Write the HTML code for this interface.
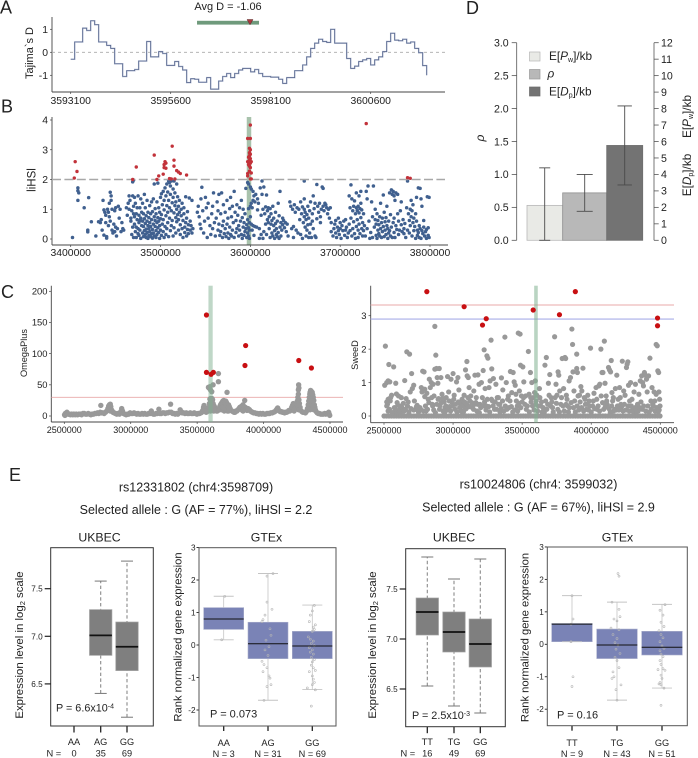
<!DOCTYPE html>
<html lang="en">
<head>
<meta charset="utf-8">
<title>Selection scan figure</title>
<style>
html,body{margin:0;padding:0;background:#fff;width:698px;height:758px;overflow:hidden}
svg{display:block;font-family:"Liberation Sans",sans-serif;fill:#222}
text{fill:#222}
</style>
</head>
<body>
<svg id="figure" xmlns="http://www.w3.org/2000/svg" width="698" height="758" viewBox="0 0 698 758">
  <text x="0" y="13.5" font-size="18">A</text>
  <text x="1" y="112.5" font-size="18">B</text>
  <text x="1" y="298" font-size="18">C</text>
  <text x="466" y="14" font-size="18">D</text>
  <text x="9" y="481" font-size="18">E</text>
  <text x="228" y="10" font-size="11" text-anchor="middle">Avg D = -1.06</text>
  <text transform="translate(33 53) rotate(-90)" font-size="11" text-anchor="middle">Tajima`s D</text>
  <text transform="translate(35.5 180) rotate(-90)" font-size="11.5" text-anchor="middle">liHSl</text>
  <text transform="translate(27 353) rotate(-90)" font-size="9.2" text-anchor="middle">OmegaPlus</text>
  <text transform="translate(358 355) rotate(-90)" font-size="9.2" text-anchor="middle">SweeD</text>
  <text transform="translate(484 138) rotate(-90)" font-size="12" font-style="italic" text-anchor="middle">ρ</text>
  <text transform="translate(691 116.5) rotate(-90)" font-size="11.8" text-anchor="middle">E[<tspan font-style="italic">P</tspan><tspan font-size="7" dy="2">w</tspan><tspan dy="-2">]/kb</tspan></text>
  <text transform="translate(691 175) rotate(-90)" font-size="11.8" text-anchor="middle">E[<tspan font-style="italic">D</tspan><tspan font-size="7" dy="2">p</tspan><tspan dy="-2">]/kb</tspan></text>
  <text x="196" y="491.5" font-size="12.5" text-anchor="middle">rs12331802 (chr4:3598709)</text>
  <text x="196" y="514" font-size="12.5" text-anchor="middle">Selected allele : G (AF = 77%), liHSl = 2.2</text>
  <text x="538.5" y="488.5" font-size="12.5" text-anchor="middle">rs10024806 (chr4: 3599032)</text>
  <text x="538.5" y="511.5" font-size="12.5" text-anchor="middle">Selected allele : G (AF = 67%), liHSl = 2.9</text>
  <text x="99.5" y="541.5" font-size="12.3" text-anchor="middle">UKBEC</text>
  <text x="266.5" y="541.5" font-size="12.3" text-anchor="middle">GTEx</text>
  <text x="454" y="541.5" font-size="12.3" text-anchor="middle">UKBEC</text>
  <text x="617.5" y="541.5" font-size="12.3" text-anchor="middle">GTEx</text>
  <text transform="translate(23 645) rotate(-90)" font-size="11.4" text-anchor="middle">Expression level in log<tspan font-size="7.5" dy="2">2</tspan><tspan dy="-2"> scale</tspan></text>
  <text transform="translate(181.5 637) rotate(-90)" font-size="11.2" text-anchor="middle">Rank normalized gene expression</text>
  <text transform="translate(376 645) rotate(-90)" font-size="11.4" text-anchor="middle">Expression level in log<tspan font-size="7.5" dy="2">2</tspan><tspan dy="-2"> scale</tspan></text>
  <text transform="translate(528.5 637.5) rotate(-90)" font-size="11.2" text-anchor="middle">Rank normalized gene expression</text>
  <text x="56" y="711.5" font-size="10.8">P = 6.6x10<tspan font-size="7" dy="-3">-4</tspan></text>
  <text x="210" y="717.5" font-size="11">P = 0.073</text>
  <text x="412" y="719" font-size="10.8">P = 2.5x10<tspan font-size="7" dy="-3">-3</tspan></text>
  <text x="557" y="718.5" font-size="11">P = 0.16</text>
  <text x="46.5" y="756.5" font-size="9.3">N =</text>
  <text x="400.5" y="756.5" font-size="9.3">N =</text>
  <g id="legend">
    <rect x="529.5" y="52" width="10.5" height="9" fill="#e9eae6" stroke="#b5b5b5" stroke-width=".7"/>
    <text x="549" y="60" font-size="11.8">E[<tspan font-style="italic">P</tspan><tspan font-size="7" dy="2">w</tspan><tspan dy="-2">]/kb</tspan></text>
    <rect x="529.5" y="69.5" width="10.5" height="9.5" fill="#b8b8b8" stroke="#999" stroke-width=".7"/>
    <text x="547.5" y="77.5" font-size="11.8" font-style="italic">ρ</text>
    <rect x="529.5" y="87" width="10.5" height="9" fill="#737373" stroke="#6a6a6a" stroke-width=".7"/>
    <text x="549" y="95.5" font-size="11.8">E[<tspan font-style="italic">D</tspan><tspan font-size="7" dy="2">p</tspan><tspan dy="-2">]/kb</tspan></text>
  </g>
</svg>
<script>
/* ---------- Panel A data ---------- */
const tajimaStart = 3593100;
const tajimaWindow = 100;
const tajimaD = [-.3,.45,.45,1.05,.95,1.37,1.2,.45,.45,.3,.17,-.5,-.5,-1.05,-.8,-.8,-.75,-.38,-.38,.47,-.2,-.2,.03,-.05,-.57,-.57,-.4,-.62,-.77,-1.32,-1.15,-1.17,-1.3,-1.3,-1.1,-1.6,-1.6,-1.25,-1.05,-.92,-1.1,-.92,-.77,-.7,-.7,-.85,-.75,-.92,-1.05,-1.05,-1.08,-1.08,-1.17,-1.35,-1.1,-1.1,-.8,-.8,-.55,-.2,.17,.4,.57,.47,.43,1,.4,.4,.4,-.27,-.7,-.6,-.4,-.33,-.27,-.55,-.33,-.2,.03,.47,.83,.53,.5,.57,.4,.45,.17,-.02,-.58,-1];
const tajimaXTicks = [3593100,3595600,3598100,3600600];
const tajimaYTicks = [-1,0,1];
const snpRegion = [3596258,3597808];
const snpMarker = 3597583;

/* ---------- Panel B data (position in kb, |iHS|) ---------- */
const ihsXTicks = [3400000,3500000,3600000,3700000,3800000];
const ihsYTicks = [0,1,2,3,4];
const ihsThreshold = 2;
const ihsBlue = [
[3402,.05],[3408,1.72],[3408,1.62],[3409,1.55],[3408,1.3],[3415,1.05],[3420,1.39],[3419,.3],[3419,.24],
[3423,.58],[3428,.1],[3431,.58],[3433,.55],[3434,.65],[3435,.3],[3436,1.3],[3437,.98],[3438,.9],[3439,.8],[3439,.55],[3437,.13],[3440,.08],[3440,.03],
[3441,1],[3442,.9],[3442,.45],[3443,1.2],[3444,1.57],[3445,1.45],[3445,1.3],[3443,.75],[3444,.6],[3446,1],[3446,.3],[3447,.2],[3448,.5],[3449,.95],[3449,.25],[3450,.4],[3450,1.05],
[3451,.1],[3452,.35],[3453,1.1],[3454,.7],[3455,1],[3456,.25],[3457,.55],[3458,.35],[3459,.3],
[3462,1.05],[3463,.8],[3464,1.2],[3465,1],[3465,1.45],[3466,1.3],[3467,.6],[3467,.7],[3468,.95],[3468,.15],[3469,1.45],[3469,.4],[3470,1.1],[3470,.85],[3470,.05],[3470,1.98],[3469,1.92],
[3471,1.4],[3471,.5],[3472,.25],[3472,1.2],[3473,.85],[3473,.05],[3474,.65],[3474,1.05],[3475,.35],[3475,1.45],[3476,.8],[3476,.12],[3476,.55],[3477,.3],[3477,1.05],[3478,.02],[3478,.7],[3478,1.35],[3479,.45],[3479,.9],[3480,.2],[3480,.6],[3480,1.2],[3471,.75],[3473,.4],[3475,.18],[3477,.62],
[3481,.08],[3481,.42],[3481,.85],[3482,.28],[3482,.68],[3482,1.5],[3483,.15],[3483,.52],[3483,1.05],[3484,.33],[3484,.78],[3484,.05],[3485,.6],[3485,.22],[3485,1.3],[3486,.02],[3486,.45],[3486,.9],[3487,.12],[3487,.72],[3487,.35],[3488,.55],[3488,1.12],[3488,.25],[3489,.85],[3489,.08],[3489,.42],[3490,.65],[3490,.18],[3490,1.25],
[3491,.32],[3491,.92],[3491,.03],[3492,.5],[3492,1.35],[3492,.2],[3493,.75],[3493,.1],[3493,1.85],[3494,.42],[3494,.62],[3494,1.02],[3495,.28],[3495,.05],[3495,.85],[3496,.55],[3496,1.25],[3496,.15],[3497,.38],[3497,.72],[3497,1.88],[3498,.22],[3498,1.05],[3498,.6],[3499,.45],[3499,.02],[3499,.9],[3500,.3],[3500,1.4],[3500,.68],
[3501,.12],[3501,.82],[3501,1.52],[3502,.5],[3502,1.15],[3503,.25],[3503,.65],[3503,1.6],[3504,.05],[3504,1.3],[3504,.98],[3505,.42],[3505,1.72],[3506,1.45],[3506,.78],[3506,.15],[3507,1.85],[3507,1.12],[3507,.35],[3508,1.58],[3508,.55],[3508,.9],[3509,1.95],[3509,.08],[3509,1.3],[3510,1.9],[3510,.7],[3510,1.05],[3511,1.5],[3511,.28],[3511,1.78],
[3512,.95],[3512,1.95],[3512,.45],[3513,1.22],[3513,.62],[3514,1.68],[3514,1.4],[3514,.1],[3515,.88],[3515,1.95],[3515,.38],[3516,1.12],[3516,1.55],[3517,.72],[3517,1.25],[3517,.2],[3518,1],[3518,1.85],[3518,.58],[3519,.82],[3519,1.42],[3520,.3],[3520,1.1],[3520,.65],
[3521,.9],[3521,1.3],[3522,.48],[3522,.15],[3523,.78],[3523,1],[3524,1.2],[3524,.35],[3525,.62],[3525,.05],[3526,.85],[3526,1.05],[3527,.4],[3527,.22],[3528,1.42],[3528,.55],[3529,.7],[3529,.1],[3530,.32],[3530,.92],[3531,.48],[3531,.18],[3532,1.38],[3533,.6],[3533,.3],[3534,.45],[3535,.2],[3535,1.3],[3536,.35],
[3541,.9],[3542,1.1],[3543,.75],[3544,.5],[3545,1.35],[3545,.35],[3546,1.74],[3547,.95],[3548,.2],[3549,.6],[3550,1.4],[3551,1.05],[3552,.05],[3553,.7],[3553,1.2],[3555,.45],[3556,.15],[3557,.85],[3558,1.1],[3558,.35],[3559,1.55],[3560,.55],
[3561,.1],[3562,.7],[3563,1.25],[3564,.3],[3564,.95],[3565,.5],[3565,1.5],[3566,.12],[3567,.85],[3567,.25],[3568,1.55],[3569,.45],[3569,.05],[3570,.6],[3570,1.15],[3571,.18],[3572,.35],[3572,.9],[3573,.08],[3574,1.3],[3574,.5],[3575,.2],[3575,.7],[3576,.02],[3577,.4],[3577,1.02],[3578,.15],[3578,1.4],[3579,.1],[3579,.75],[3580,.3],[3580,1.1],
[3581,.55],[3582,.05],[3582,1.6],[3583,.9],[3584,.22],[3584,.62],[3585,.35],[3585,1.15],[3586,.8],[3587,.45],[3587,.1],[3588,1.05],[3588,.3],[3589,.6],[3590,1.3],[3590,.15],[3591,.72],[3591,.02],[3592,1],[3592,.4],[3593,.55],[3593,.12],[3594,.25],[3594,.85],[3595,1.7],[3595,.35],[3596,.05],[3596,.48],[3597,.2],[3597,.65],[3597,1.9],[3598,.1],[3598,.38],[3598,1.02],[3598,1.85],
[3599,.02],[3599,.3],[3599,.55],[3600,.75],[3600,1.75],[3600,1.1],[3601,.5],[3601,1.2],[3601,1.68],[3602,.3],[3602,1.05],[3603,.45],[3603,1.3],[3603,1.6],[3604,.12],[3604,1.45],[3605,.42],[3605,1.25],[3606,1.5],[3607,.4],[3608,.98],[3608,1.35],[3609,1.2],[3610,.02],[3610,.35],[3611,1.72],[3612,.8],[3612,.15],[3613,1.5],[3613,1.95],[3614,.02],[3614,1],[3615,1.75],[3615,.25],[3616,.85],[3617,1.08],[3617,.5],[3618,.15],[3618,1.48],[3619,.95],[3619,.65],[3620,.55],[3620,1.05],
[3621,.75],[3621,.35],[3622,1.02],[3622,.05],[3623,.5],[3623,.85],[3624,.2],[3624,.62],[3625,1.1],[3625,.1],[3626,.45],[3626,.7],[3627,.28],[3627,.02],[3628,.52],[3628,.9],[3629,.15],[3629,.35],[3630,.08],[3630,.6],[3631,1.2],[3631,.22],[3632,.02],[3632,.78],[3633,1.6],[3633,.4],[3634,.55],[3634,.1],[3635,.3],[3636,.7],[3636,.48],[3637,.62],[3638,.38],[3639,.55],[3640,.25],[3641,.5],[3642,.1],
[3644,1.25],[3645,1.1],[3646,.35],[3647,1],[3648,.42],[3648,.05],[3649,1.15],[3650,.9],[3651,.3],[3652,1.05],[3653,.2],[3654,1],[3655,.65],[3656,1.25],[3656,.15],[3657,.85],[3658,1.08],[3658,.02],[3659,.55],[3660,1],[3660,1.35],[3660,.75],[3660,1.95],[3661,.4],[3661,.9],[3662,.65],[3662,.1],[3663,.82],[3663,.3],[3664,1.1],[3664,.48],[3665,.7],[3665,.05],[3666,.95],[3666,.2],[3667,.5],[3667,1.25],[3668,.05],[3669,.6],[3669,.85],[3670,1.45],[3670,.35],[3671,1.02],[3672,.1],[3672,1.2],[3673,.05],[3674,.68],[3674,1.83],[3675,1.1],[3676,.9],[3677,1.2],[3678,.75],[3678,.55],[3679,1],[3680,1.75],[3681,1.7],[3681,1.1],[3682,.95],[3683,1.2],[3684,1.15],[3685,1.05],[3686,.85],[3687,1],[3688,.7],[3689,1.05],[3690,.25],[3690,.55],
[3692,.1],[3693,.35],[3694,.5],[3695,.62],[3695,.2],[3696,.05],[3697,.4],[3698,.7],[3698,.28],[3699,.15],[3700,.55],[3700,.35],[3701,.02],[3702,.45],[3703,.28],[3704,.6],[3705,.12],[3706,.3],[3706,.65],[3707,.4],[3708,.05],[3709,.2],[3710,1.45],[3710,.5],[3711,1.05],[3711,.28],[3712,1.82],[3712,.7],[3713,1.35],[3713,.1],[3714,.95],[3714,.35],[3715,1.1],[3715,.58],[3716,1.28],[3716,.18],[3717,.85],[3717,.02],[3718,1.05],[3718,1.55],[3718,.42],[3719,.95],[3719,.65],[3720,1.1],[3720,.3],[3720,.05],[3721,1.45],[3721,.88],[3721,.5],[3722,1.02],[3722,.18],[3723,1.2],[3723,.72],[3723,1.6],[3724,.98],[3724,.35],[3725,.55],[3725,.1],[3726,.85],[3726,.28],[3727,.45],[3728,.1],[3729,1.6],[3730,1.35],[3730,.35],[3731,1.78],[3732,.6],[3733,.02],[3734,.22],[3735,1.25],[3736,.75],[3736,.05],[3737,1.78],[3738,.4],[3739,.65],[3739,1],[3740,.12],[3740,.5],
[3741,.85],[3741,.02],[3742,.3],[3742,.62],[3743,.48],[3743,.18],[3744,.1],[3744,.75],[3745,.35],[3745,1.2],[3746,.55],[3746,.05],[3747,.7],[3747,.25],[3748,.42],[3748,1.48],[3749,.08],[3749,.9],[3750,.3],[3750,.58],[3751,.15],[3751,.72],[3752,.45],[3752,1.1],[3753,.02],[3753,.35],[3754,.6],[3754,.2],[3755,1.55],[3755,.28],[3756,.82],[3756,.1],[3757,1.65],[3757,.4],[3758,1.5],[3758,.05],[3759,1.6],[3759,.55],[3760,1.45],[3760,.7],[3760,.22],[3761,1.3],[3761,.05],[3762,1.55],[3762,.45],[3763,.32],[3764,1.5],[3764,.85],[3765,.15],[3765,.6],[3766,.3],[3767,.95],[3768,1.25],[3768,.48],[3769,.25],[3770,.65],[3771,.18],[3771,.35],[3772,.52],[3773,.05],[3774,1.05],[3775,1.95],[3775,.3],[3776,.85],[3777,.62],[3777,.2],[3778,1],[3778,.45],[3779,1.3],[3779,.75],[3780,.95],[3780,.1],[3781,.55],[3781,1.15],[3782,.7],[3782,.28],[3783,.42],[3784,.85],[3784,.02],[3785,1.4],[3785,.6],[3786,.3],[3786,.12],[3787,1.72],[3787,.22],[3788,.45],[3788,.05],[3789,1.7],[3789,.35],[3790,.02],[3790,1.35],[3791,1.1],[3791,.28],[3792,.18],[3793,.4],[3793,.62],[3794,.1],[3795,.25],[3796,.02],[3796,.32],[3797,1.42],[3798,.12],[3798,.38],[3799,.05],[3799,1.4]
];
const ihsRed = [[3404,2.05],[3405,2.6],[3407,2.27],[3469,2],[3473,2.42],[3493,2.82],[3496,2],[3498,2.12],[3503,2.18],[3504,2.4],[3504,2.5],[3505,2.6],[3506,2.38],[3506,2.55],[3510,2.03],[3513,3.12],[3512,2.02],[3515,2.65],[3515,2.45],[3516,2.02],[3518,2.3],[3520,2.25],[3522,2.2],[3529,2.15],[3597,3.38],[3597,2.6],[3597,2.2],[3597,2.12],[3598,2.75],[3598,2.5],[3599,3.05],[3599,2.9],[3599,2.8],[3599,2.65],[3599,2.45],[3599,2.28],[3600,3.83],[3600,3.38],[3600,3],[3600,2.85],[3600,2.7],[3600,2.55],[3600,2.4],[3600,2.02],[3601,2.6],[3601,2.02],[3601,2.22],[3729,3.88],[3775,2.06],[3778,2.04]];
const ihsBandKb = [3596,3601];

/* ---------- Panel C data (position in kb, statistic) ---------- */
const scanXTicks = [2500000,3000000,3500000,4000000,4500000];
const omegaYTicks = [0,50,100,150,200];
const omegaThreshold = 30;
const omegaGrey = [
[2502,2],[2505,1],[2508,4],[2512,3],[2516,5],[2520,6],[2525,4],[2530,3],[2538,3],[2546,2],[2555,3],[2564,2],[2572,3],[2582,2],[2590,3],[2600,2],[2610,3],[2620,3],[2630,2],[2640,4],[2650,4],[2660,3],[2670,3],[2680,4],[2690,3],[2700,2],[2710,3],[2720,3],[2730,4],[2740,4],[2750,5],[2760,4],[2775,17],[2770,6],[2780,5],[2790,5],[2800,4],[2810,6],[2820,8],[2828,12],[2834,16],[2840,18],[2846,19],[2850,15],[2855,10],[2860,8],[2866,6],[2875,5],[2885,4],[2895,3],[2905,4],[2915,3],[2925,7],[2932,12],[2938,8],[2945,4],[2955,3],[2965,2],[2975,3],[2985,3],[2995,5],[3005,4],[3015,4],[3025,5],[3035,4],[3045,3],[3055,4],[3065,3],[3075,3],[3085,4],[3095,3],[3105,4],[3115,3],[3125,3],[3135,4],[3145,4],[3155,8],[3162,4],[3170,3],[3180,3],[3190,4],[3200,4],[3212,11],[3220,4],[3230,4],[3240,5],[3250,5],[3260,4],[3270,5],[3280,5],[3290,6],[3300,19],[3305,6],[3315,4],[3325,4],[3335,3],[3345,4],[3355,3],[3365,5],[3372,10],[3380,7],[3388,5],[3398,5],[3408,4],[3418,5],[3428,4],[3438,4],[3448,5],[3458,4],[3468,4],[3478,5],[3488,4],[3498,3],[3508,4],[3518,4],[3528,5],[3535,6],[3542,9],[3548,14],[3552,17],[3556,13],[3562,8],[3568,6],[3574,7],[3580,8],[3584,10],[3588,14],[3592,20],[3596,27],[3600,28],[3602,25],[3605,24],[3608,22],[3612,28],[3616,26],[3620,20],[3625,17],[3630,15],[3635,12],[3640,10],[3646,8],[3652,8],[3658,9],[3664,11],[3670,15],[3676,18],[3682,20],[3688,22],[3694,24],[3700,25],[3705,22],[3710,20],[3715,24],[3720,22],[3725,18],[3730,16],[3736,18],[3742,15],[3748,12],[3755,9],[3762,8],[3770,7],[3778,6],[3785,6],[3792,8],[3800,8],[3808,10],[3815,12],[3822,14],[3830,15],[3838,16],[3845,18],[3852,15],[3858,25],[3862,14],[3868,10],[3875,9],[3882,12],[3888,11],[3894,10],[3900,8],[3908,7],[3916,6],[3925,5],[3935,5],[3945,4],[3955,4],[3965,3],[3975,4],[3985,3],[3995,4],[4005,3],[4015,3],[4025,4],[4035,4],[4045,4],[4055,5],[4065,5],[4075,6],[4085,7],[4093,9],[4100,11],[4106,13],[4112,10],[4118,8],[4126,7],[4134,7],[4142,6],[4150,6],[4158,5],[4166,6],[4174,6],[4182,7],[4190,9],[4198,8],[4205,10],[4212,14],[4218,17],[4224,20],[4230,18],[4236,15],[4240,12],[4245,14],[4250,20],[4254,24],[4258,30],[4262,35],[4262,42],[4264,50],[4266,45],[4266,26],[4270,20],[4275,14],[4280,9],[4288,7],[4296,6],[4305,6],[4315,5],[4322,7],[4330,12],[4336,18],[4340,24],[4344,30],[4348,35],[4350,38],[4354,41],[4358,40],[4362,36],[4366,38],[4370,34],[4374,30],[4378,25],[4382,18],[4386,14],[4390,10],[4396,7],[4404,5],[4412,4],[4420,4],[4430,3],[4440,3],[4450,3],[4460,4],[4468,3],[4476,4],[4484,4],[4490,6],[4494,3],[4498,1],
[3660,68],[3660,55],[3620,50],[3590,45],[3596,47],[3600,42],[3610,39],[3585,46],[3725,38],
[2838,10],[2846,8],[3550,8],[3596,16],[3600,8],[3606,14],[3612,12],[3618,9],[3625,8],[3682,10],[3690,14],[3698,12],[3704,8],[3712,12],[3720,10],[3728,8],[3736,8],[3840,9],[3846,8],[4222,10],[4230,8],[4254,12],[4260,14],[4264,10],[4268,10],[4342,14],[4350,20],[4350,10],[4356,26],[4362,18],[4368,24],[4372,12],[4378,10]
];
const omegaRed = [[3570,162],[3570,70],[3605,67],[3622,70],[3865,113],[3860,81],[4265,89],[4360,77]];
const omegaBandKb = [3585,3617];

const sweedYTicks = [0,1,2,3];
const sweedThresholds = [3.32,2.9];
const sweedZeroKb = [2500,2518,2536,2554,2572,2590,2608,2626,2644,2662,2680,2698,2716,2734,2752,2770,2788,2806,2824,2842,2860,2878,2896,2914,2932,2950,2968,2986,3004,3022,3040,3058,3076,3094,3112,3130,3148,3166,3184,3202,3220,3238,3256,3274,3292,3310,3328,3346,3364,3382,3400,3418,3436,3454,3472,3490,3508,3526,3544,3562,3580,3598,3616,3634,3652,3670,3688,3706,3724,3742,3760,3778,3796,3814,3832,3850,3868,3886,3904,3922,3940,3958,3976,3994,4012,4030,4048,4066,4084,4102,4120,4138,4156,4174,4192,4210,4228,4246,4264,4282,4300,4318,4336,4354,4372,4390,4408,4426,4444,4462,4480,4498];
const sweedGrey = [
[2510,2.09],[2505,.92],[2520,1],[2530,1.05],[2535,1.54],[2542,1.02],[2555,.62],[2548,.55],[2530,.5],[2525,.35],[2520,.42],[2540,.2],[2530,.15],[2570,1.47],[2585,.98],[2590,.66],[2605,.6],[2625,.55],[2575,.25],[2590,.12],[2600,.32],[2610,.18],[2620,.1],[2630,.25],[2640,.38],[2650,1.06],[2665,1.92],[2685,1.85],[2660,.52],[2670,.3],[2680,.12],[2690,.72],[2700,1.27],[2705,.82],[2715,.92],[2720,.45],[2730,.2],[2740,.32],[2750,.12],[2760,.25],[2770,.85],[2775,.72],[2780,1.34],[2790,1.32],[2795,.58],[2800,.3],[2805,.15],[2810,.68],[2820,.5],[2828,1.1],[2835,.85],[2842,1],[2850,.35],[2855,.95],[2860,.18],[2868,2.68],[2868,1.4],[2875,1.82],[2880,1.42],[2885,1.15],[2890,.98],[2895,.52],[2900,1.42],[2905,.3],[2912,1.15],[2920,.65],[2928,.15],[2935,.42],[2942,.25],[2950,.55],[2960,1.18],[2968,.72],[2975,.28],[2985,1.1],[2990,.42],[3000,1.27],[3008,.62],[3015,.2],[3025,1.02],[3035,1.15],[3042,.78],[3050,.38],[3058,.15],[3065,.5],[3072,.3],[3080,.62],[3088,.4],[3095,.22],[3102,1.2],[3110,1.15],[3116,.85],[3122,.45],[3128,.6],[3082,.42],[3090,1.38],[3100,1.63],[3140,.25],[3150,.75],[3158,1.22],[3165,.4],[3172,.15],[3180,1.23],[3188,.95],[3195,.35],[3205,1],[3212,.55],[3218,1.36],[3225,1.98],[3232,.82],[3240,.3],[3245,1.8],[3252,1.73],[3260,.85],[3268,1.05],[3275,2.27],[3280,1.41],[3285,.45],[3292,1.12],[3300,.2],[3310,.95],[3320,.55],[3330,.35],[3340,.12],[3350,1.14],[3360,.78],[3375,2.36],[3385,1],[3395,.5],[3405,.25],[3415,1.33],[3425,.7],[3435,1.3],[3442,1.02],[3450,.92],[3458,.45],[3465,.3],[3472,2.48],[3485,2.45],[3480,.75],[3488,1.52],[3495,.6],[3505,1.47],[3512,1.02],[3520,.35],[3530,.2],[3545,1.93],[3550,.65],[3560,1.3],[3565,.42],[3570,1],[3580,.55],[3595,1.05],[3590,.7],[3598,.35],[3606,.62],[3612,.15],[3625,.82],[3635,.3],[3645,.12],[3665,1.52],[3675,1.75],[3670,.45],[3690,.98],[3700,1.24],[3710,.55],[3720,.25],[3735,2.37],[3745,.95],[3752,.62],[3760,1.32],[3765,1.22],[3772,.75],[3780,.35],[3790,1.72],[3800,.82],[3810,1.75],[3815,1.72],[3820,.62],[3828,.3],[3835,.12],[3840,1.05],[3850,1.15],[3860,2.6],[3865,2.14],[3868,1.32],[3875,.75],[3880,.45],[3895,1.85],[3895,1.42],[3900,1.3],[3905,.6],[3915,.62],[3925,.88],[3932,.75],[3940,1.43],[3950,.55],[3958,.35],[3965,.2],[3975,.62],[3985,.45],[3995,2.03],[4010,.3],[4020,.68],[4035,.85],[4042,.2],[4055,.9],[4062,.95],[4070,2],[4078,1.3],[4085,1.3],[4095,2.24],[4100,.98],[4108,.6],[4115,.35],[4125,1.45],[4132,1.38],[4140,1.32],[4145,1.66],[4150,.7],[4155,.45],[4162,.15],[4175,.82],[4185,1.22],[4195,.5],[4205,.85],[4215,.35],[4225,1.64],[4235,.75],[4245,.62],[4255,1.45],[4260,1.55],[4265,1.62],[4270,.92],[4278,.45],[4285,1],[4295,.5],[4300,.2],[4310,.72],[4320,.95],[4335,.35],[4345,.65],[4355,1.05],[4365,1.2],[4372,1],[4378,.9],[4385,1.3],[4392,1.22],[4400,1.1],[4405,.72],[4415,1.2],[4425,1.73],[4432,.45],[4440,.85],[4445,.35],[4455,.72],[4462,.15],[4470,2.14],[4478,2.1],[4482,1.35],[4488,1.3],[4490,.72],[4495,.5],[4498,.3],[4485,.12],[4470,.65],
[2520,.3],[2545,.45],[2560,.1],[2580,.2],[2595,.4],[2615,.3],[2645,.15],[2655,.2],[2675,.42],[2695,.22],[2715,.18],[2735,.28],[2745,.18],[2765,.2],[2785,.15],[2795,.8],[2815,.2],[2825,.4],[2845,.55],[2852,.3],[2862,.6],[2872,.1],[2882,.35],[2892,.5],[2902,.2],[2915,.4],[2925,.52],[2938,.1],[2948,.3],[2958,.18],[2972,.45],[2982,.15],[2995,.3],[3005,.5],[3018,.35],[3028,.12],[3038,.42],[3048,.25],[3062,.3],[3075,.12],[3085,.2],[3098,.35],[3108,.55],[3120,.28],[3135,.4],[3148,.2],[3155,.35],[3168,.55],[3178,.35],[3190,.1],[3200,.25],[3215,.3],[3228,.42],[3238,.18],[3248,.5],[3258,.28],[3265,.12],[3278,.5],[3290,.3],[3305,.42],[3315,.2],[3328,.55],[3338,.35],[3348,.22],[3358,.45],[3368,.15],[3378,.3],[3390,.2],[3400,.6],[3412,.45],[3422,.28],[3432,.12],[3446,.18],[3455,.65],[3468,.15],[3478,.38],[3490,.25],[3500,.42],[3510,.55],[3525,.6],[3538,.3],[3552,.12],[3562,.55],[3575,.3],[3586,.18],[3602,.45],[3618,.3],[3628,.55],[3640,.42],[3652,.25],[3660,.1],[3678,.2],[3685,.35],[3695,.62],[3705,.3],[3715,.42],[3725,.12],[3738,.55],[3748,.38],[3758,.2],[3770,.12],[3785,.55],[3795,.3],[3805,.15],[3818,.35],[3825,.5],[3842,.25],[3855,.4],[3872,.25],[3885,.12],[3898,.3],[3910,.18],[3920,.42],[3930,.25],[3945,.15],[3955,.5],[3970,.35],[3980,.18],[3990,.3],[4000,.12],[4015,.45],[4025,.22],[4040,.5],[4050,.3],[4060,.15],[4072,.6],[4082,.4],[4090,.2],[4102,.28],[4112,.45],[4128,.22],[4138,.12],[4148,.3],[4160,.55],[4170,.2],[4180,.18],[4190,.3],[4200,.18],[4210,.55],[4220,.28],[4230,.15],[4240,.35],[4250,.18],[4268,.3],[4275,.15],[4290,.3],[4305,.12],[4318,.25],[4328,.12],[4340,.15],[4350,.25],[4360,.42],[4370,.2],[4380,.3],[4395,.15],[4410,.3],[4420,.12],[4435,.2],[4450,.3],[4460,.45],[4475,.25],[4492,.18]
];
const sweedRed = [[2810,3.72],[3080,3.27],[3240,2.91],[3213,2.72],[3580,3.17],[3770,3.03],[3885,3.72],[4480,2.93],[4480,2.7]];
const sweedBandKb = [3587,3613];

/* ---------- Panel D data ---------- */
const barNames = ['pw','rho','dp'];
const barValues = [.53,.72,1.44];
const barErrLow = [0,.44,.84];
const barErrHigh = [1.1,1,2.04];
const rhoTicks = [0,.5,1,1.5,2,2.5,3];
const rightTicks = [0,1,2,3,4,5,6,7,8,9,10,11,12];

/* ---------- Panel E data ---------- */
const ukbec1Labels = ['AA','AG','GG'];
const ukbec1Counts = ['0','35','69'];
const ukbec1Low = [null,6.4,6.15];
const ukbec1Q1 = [null,6.8,6.64];
const ukbec1Median = [null,7.01,6.89];
const ukbec1Q3 = [null,7.28,7.15];
const ukbec1High = [null,7.58,7.79];
const ukbec1Ticks = [6.5,7,7.5];

const ukbec2Labels = ['TT','TG','GG'];
const ukbec2Counts = ['16','49','69'];
const ukbec2Low = [6.53,6.33,6.26];
const ukbec2Q1 = [7.04,6.87,6.72];
const ukbec2Median = [7.27,7.07,6.95];
const ukbec2Q3 = [7.41,7.27,7.2];
const ukbec2High = [7.82,7.6,7.8];
const ukbec2Ticks = [6.5,7,7.5];

const gtexTicks = [-2,-1,0,1,2,3];
const gtex1Labels = ['AA','AG','GG'];
const gtex1Counts = ['N = 3','N = 31','N = 69'];
const gtex1Low = [.16,-1.7,-1.37];
const gtex1Q1 = [.48,-.42,-.42];
const gtex1Median = [.8,.04,-.03];
const gtex1Q3 = [1.15,.7,.42];
const gtex1High = [1.5,2.2,1.23];
const gtex1Points = [
[[1,1.5],[-2,.16]],
[[5,2.2],[-1,2.12],[-1,1.32],[4,1.1],[-3,.92],[-5,.78],[-6,.72],[2,.5],[3,.3],[-2,.15],[1,-.05],[-3,-.15],[0,-.32],[-6,-.5],[-4,-.6],[-1,-.7],[-5,-.82],[1,-.95],[2,-1.02],[3,-1.22],[-1,-1.28],[-4,-1.7]],
[[2,1.22],[0,1.05],[-2,.92],[-3,.72],[3,.62],[1,.55],[2,.48],[0,.42],[-4,.25],[-2,.18],[1,.12],[-1,.05],[2,-.02],[-3,-.08],[0,-.15],[-2,-.22],[1,-.28],[-1,-.38],[2,-.45],[0,-.52],[-1,-.62],[1,-.7],[3,-.78],[-3,-.82],[0,-.95],[1,-1.05],[2,-1.15],[0,-1.22],[-5,-1.32],[3,-1.38],[-1,-1.88]]
];

const gtex2Labels = ['TT','TG','GG'];
const gtex2Counts = ['N = 9','N = 43','N = 51'];
const gtex2Low = [.08,-1.72,-1.35];
const gtex2Q1 = [.08,-.44,-.33];
const gtex2Median = [.62,-.02,-.09];
const gtex2Q3 = [.64,.47,.4];
const gtex2High = [1.5,1.3,1.23];
const gtex2Points = [
[[0,1.5],[1,.78],[-1,.62],[-1,.08],[1,-1],[0,-1.3]],
[[1,2.18],[2,2.1],[-5,1.3],[2,1.08],[3,.85],[-3,.78],[0,.72],[-6,.5],[2,.45],[-4,.3],[0,.18],[-2,.05],[1,-.02],[-1,-.15],[3,-.28],[-2,-.4],[0,-.5],[2,-.72],[-4,-.85],[-5,-1.05],[-3,-1],[-1,-1.4],[4,-1.25],[0,-1.72]],
[[3,1.22],[-2,1.05],[1,.9],[-1,.68],[2,.55],[-3,.42],[-1,.3],[1,.2],[-2,.08],[0,-.05],[2,-.12],[-2,-.2],[-1,-.3],[1,-.38],[-2,-.5],[-1,-.62],[1,-.75],[-4,-.78],[3,-.8],[-1,-.95],[0,-1.05],[-2,-1.18],[-1,-1.25],[-3,-1.22],[2,-1.35],[-1,-1.88]]
];

/* ---------- Helpers ---------- */
const NS = 'http://www.w3.org/2000/svg';
const svg = document.getElementById('figure');
function linear(d0, d1, r0, r1) { return v => r0 + (v - d0) * (r1 - r0) / (d1 - d0); }
function add(parent, tag, name, attrs, txt) {
  const el = document.createElementNS(NS, tag);
  
  
  for (const k in attrs) el.setAttribute(k, attrs[k]);
  if (txt !== undefined) el.textContent = txt;
  parent.appendChild(el);
  return el;
}
function group(name) { return add(svg, 'g', name, {}); }
function hLine(g, name, x1, x2, y, stroke, w, extra) {
  return add(g, 'line', name, Object.assign({x1: x1, x2: x2, y1: y, y2: y, stroke: stroke, 'stroke-width': w}, extra || {}));
}
function vLine(g, name, x, y1, y2, stroke, w, extra) {
  return add(g, 'line', name, Object.assign({x1: x, x2: x, y1: y1, y2: y2, stroke: stroke, 'stroke-width': w}, extra || {}));
}
function label(g, name, x, y, s, size, anchor) {
  return add(g, 'text', name, {x: x, y: y, 'font-size': size, 'text-anchor': anchor || 'middle'}, s);
}
function axesLS(g, left, right, top, bottom, color) {
  vLine(g, 'y-axis-line', left, top, bottom, color, .9);
  hLine(g, 'x-axis-line', left, right, bottom, color, .9);
}

/* ---------- Panel A ---------- */
(function () {
  const g = group('panel-a-tajima');
  const x = linear(3593100, 3595600, 70.7, 170.7);
  const y = linear(0, 1, 52.3, 29.3);
  axesLS(g, 52, 445, 17, 92, '#444');
  hLine(g, 'zero-reference-line', 52, 445, y(0), '#aaa', .8, {'stroke-dasharray': '3 3'});
  tajimaXTicks.forEach(t => {
    vLine(g, 'x-tick', x(t), 92, 94, '#444', .7);
    label(g, 'x-tick-label', x(t), 104, t, 10.4);
  });
  tajimaYTicks.forEach(t => {
    hLine(g, 'y-tick', 50, 52, y(t), '#444', .7);
    label(g, 'y-tick-label', 48, y(t) + 3.6, t, 10.4, 'end');
  });
  let d = '';
  tajimaD.forEach((v, i) => {
    const x0 = x(tajimaStart + i * tajimaWindow);
    const x1 = x(tajimaStart + (i + 1) * tajimaWindow);
    if (i === 0) d += 'M' + x0 + ' ' + y(v);
    if (i === tajimaD.length - 1) d += 'V' + y(v);
    else d += 'V' + y(v) + 'H' + x1;
  });
  add(g, 'path', 'tajima-line-halo', {d: d, fill: 'none', stroke: '#b4bed6', 'stroke-width': 1.5});
  add(g, 'path', 'tajima-line', {d: d, fill: 'none', stroke: '#56648a', 'stroke-width': .7});
  add(g, 'rect', 'snp-region-bar', {x: x(snpRegion[0]), y: 20.8, width: x(snpRegion[1]) - x(snpRegion[0]), height: 3.8, fill: '#6f9a7c'});
  const mx = x(snpMarker);
  add(g, 'path', 'snp-marker', {d: 'M' + (mx - 3) + ' 19.5H' + (mx + 3) + 'L' + mx + ' 24.8Z', fill: '#a83a3f', stroke: '#5a2a2a', 'stroke-width': .5});
})();

/* ---------- Panel B ---------- */
(function () {
  const g = group('panel-b-ihs');
  const x = linear(3400000, 3800000, 70.7, 430);
  const y = linear(0, 4, 239, 120);
  add(g, 'rect', 'selection-highlight-band', {x: x(ihsBandKb[0] * 1000), y: 117, width: x(ihsBandKb[1] * 1000) - x(ihsBandKb[0] * 1000), height: 128, fill: '#a8c2ac'});
  axesLS(g, 52, 448, 117, 245, '#444');
  ihsXTicks.forEach(t => {
    vLine(g, 'x-tick', x(t), 245, 247, '#444', .7);
    label(g, 'x-tick-label', x(t), 256, t, 10.4);
  });
  ihsYTicks.forEach(t => {
    hLine(g, 'y-tick', 50, 52, y(t), '#444', .7);
    label(g, 'y-tick-label', 48, y(t) + 3.6, t, 10.4, 'end');
  });
  ihsBlue.forEach(p => {
    const c = add(g, 'circle', 'ihs-point', {cx: x(p[0] * 1000), cy: y(p[1]), r: 1.75, fill: '#40608f'});
    c.setAttribute('data-group', 'below-threshold');
  });
  hLine(g, 'ihs-threshold-line', 52, 445, y(ihsThreshold), '#a8a8a8', 1.6, {'stroke-dasharray': '9 3.4'});
  ihsRed.forEach(p => {
    const c = add(g, 'circle', 'ihs-outlier-point', {cx: x(p[0] * 1000), cy: y(p[1]), r: 1.7, fill: '#c2323a'});
    c.setAttribute('data-group', 'above-threshold');
  });
})();

/* ---------- Panel C ---------- */
(function () {
  const g = group('panel-c-omegaplus');
  const x = linear(2500000, 4500000, 64.3, 330);
  const y = linear(0, 200, 416, 291.3);
  axesLS(g, 51.3, 343, 285.7, 422, '#444');
  scanXTicks.forEach(t => {
    vLine(g, 'x-tick', x(t), 422, 424, '#444', .7);
    label(g, 'x-tick-label', x(t), 433, t, 9);
  });
  omegaYTicks.forEach(t => {
    hLine(g, 'y-tick', 49, 51.3, y(t), '#444', .7);
    label(g, 'y-tick-label', 47.5, y(t) + 3.2, t, 9.4, 'end');
  });
  hLine(g, 'omega-threshold-line', 51.3, 343, y(omegaThreshold), '#e8a8a8', .9);
  omegaGrey.forEach(p => {
    add(g, 'circle', 'omega-point', {cx: x(p[0] * 1000), cy: y(p[1]), r: 2.7, fill: '#999'});
  });
  add(g, 'rect', 'omega-highlight-band', {x: x(omegaBandKb[0] * 1000), y: 285.7, width: x(omegaBandKb[1] * 1000) - x(omegaBandKb[0] * 1000), height: 136.3, fill: '#7fb08f', opacity: .5});
  omegaRed.forEach(p => {
    add(g, 'circle', 'omega-outlier-point', {cx: x(p[0] * 1000), cy: y(p[1]), r: 2.6, fill: '#c80f12'});
  });
})();
(function () {
  const g = group('panel-c-sweed');
  const x = linear(2500000, 4500000, 384, 660.3);
  const y = linear(0, 3, 416, 315.7);
  axesLS(g, 370.7, 674, 285.7, 422.7, '#444');
  scanXTicks.forEach(t => {
    vLine(g, 'x-tick', x(t), 422.7, 424.7, '#444', .7);
    label(g, 'x-tick-label', x(t), 433.5, t, 9);
  });
  sweedYTicks.forEach(t => {
    hLine(g, 'y-tick', 368.5, 370.7, y(t), '#444', .7);
    label(g, 'y-tick-label', 366.5, y(t) + 3.2, t, 9.4, 'end');
  });
  hLine(g, 'sweed-threshold-red', 370.7, 674, y(sweedThresholds[0]), '#e8a8a8', .9);
  hLine(g, 'sweed-threshold-blue', 370.7, 674, y(sweedThresholds[1]), '#a8aee8', 1.1);
  sweedZeroKb.forEach(k => {
    add(g, 'circle', 'sweed-baseline-point', {cx: x(k * 1000), cy: y(0), r: 2.6, fill: '#999'});
  });
  sweedGrey.forEach(p => {
    add(g, 'circle', 'sweed-point', {cx: x(p[0] * 1000), cy: y(p[1]), r: 2.6, fill: '#999'});
  });
  add(g, 'rect', 'sweed-highlight-band', {x: x(sweedBandKb[0] * 1000), y: 285.7, width: x(sweedBandKb[1] * 1000) - x(sweedBandKb[0] * 1000), height: 137, fill: '#7fb08f', opacity: .55});
  sweedRed.forEach(p => {
    add(g, 'circle', 'sweed-outlier-point', {cx: x(p[0] * 1000), cy: y(p[1]), r: 2.6, fill: '#c80f12'});
  });
})();

/* ---------- Panel D ---------- */
(function () {
  const g = group('panel-d-bars');
  const y = linear(0, 3, 240.3, 42.7);
  const yr = linear(0, 12, 240.3, 42.7);
  const barLeft = [527, 562.7, 606.7];
  const barRight = [562.7, 606.7, 642.7];
  const fills = ['#e9eae6', '#b8b8b8', '#737373'];
  const strokes = ['#b8b8b8', '#8f8f8f', '#6f6f6f'];
  const errX = [544.7, 584.7, 624.7];
  const capHalf = [5.5, 8, 7.2];
  vLine(g, 'rho-axis-line', 516.7, 42.7, 240.3, '#555', .8);
  rhoTicks.forEach(t => {
    hLine(g, 'rho-tick', 511.7, 516.7, y(t), '#555', .8);
    label(g, 'rho-tick-label', 508.7, y(t) + 3.8, t.toFixed(1), 10.6, 'end');
  });
  vLine(g, 'right-axis-line', 654, 42.7, 240.3, '#555', .8);
  rightTicks.forEach(t => {
    hLine(g, 'right-tick', 654, 658.7, yr(t), '#555', .8);
    label(g, 'right-tick-label', 661, yr(t) + 3.8, t, 10.6, 'start');
  });
  barValues.forEach((v, i) => {
    add(g, 'rect', 'bar-' + barNames[i], {x: barLeft[i], y: y(v), width: barRight[i] - barLeft[i], height: y(0) - y(v), fill: fills[i], stroke: strokes[i], 'stroke-width': .8});
  });
  barValues.forEach((v, i) => {
    vLine(g, 'error-bar-' + barNames[i], errX[i], y(barErrLow[i]), y(barErrHigh[i]), '#4a4a4a', .9);
    hLine(g, 'error-cap-low', errX[i] - capHalf[i], errX[i] + capHalf[i], y(barErrLow[i]), '#4a4a4a', .9);
    hLine(g, 'error-cap-high', errX[i] - capHalf[i], errX[i] + capHalf[i], y(barErrHigh[i]), '#4a4a4a', .9);
  });
})();

/* ---------- Panel E ---------- */
function drawUkbec(name, frame, yAnchors, xs, labels, counts, low, q1, med, q3, high, ticks, halfW) {
  const g = group(name);
  const y = linear(yAnchors[0], yAnchors[1], yAnchors[2], yAnchors[3]);
  labels.forEach((l, i) => {
    if (med[i] !== null) {
      vLine(g, 'whisker', xs[i], y(low[i]), y(high[i]), '#8a8a8a', 1.1, {'stroke-dasharray': '3.4 2.4'});
      hLine(g, 'whisker-cap-low', xs[i] - 6, xs[i] + 6, y(low[i]), '#777', 1);
      hLine(g, 'whisker-cap-high', xs[i] - 6, xs[i] + 6, y(high[i]), '#777', 1);
      add(g, 'rect', 'box-' + l, {x: xs[i] - halfW, y: y(q3[i]), width: halfW * 2, height: y(q1[i]) - y(q3[i]), fill: '#7f7f7f', stroke: '#a0a0a0', 'stroke-width': .7});
      hLine(g, 'median-' + l, xs[i] - halfW, xs[i] + halfW, y(med[i]), '#111', 1.7);
    }
    vLine(g, 'x-tick', xs[i], frame.b, frame.b + 6.5, '#222', 1.3);
    label(g, 'x-tick-label', xs[i], 745, l, 9.2);
    label(g, 'sample-count', xs[i], 756.5, counts[i], 9.2);
  });
  add(g, 'rect', 'plot-frame', {x: frame.l, y: frame.t, width: frame.r - frame.l, height: frame.b - frame.t, fill: 'none', stroke: '#333', 'stroke-width': 1});
  ticks.forEach(t => {
    hLine(g, 'y-tick', frame.l - 6, frame.l, y(t), '#222', 1.2);
    label(g, 'y-tick-label', frame.l - 8, y(t) + 3, t.toFixed(1), 8.2, 'end');
  });
}
function drawGtex(name, frame, zeroY, pxPerUnit, xs, labels, counts, low, q1, med, q3, high, pts, halfW) {
  const g = group(name);
  const y = v => zeroY - v * pxPerUnit;
  gtexTicks.forEach(t => {
    hLine(g, 'y-tick', frame.l - 2.5, frame.l, y(t), '#222', .9);
    label(g, 'y-tick-label', frame.l - 3.5, y(t) + 2.9, t, 8.2, 'end');
  });
  labels.forEach((l, i) => {
    add(g, 'rect', 'box-' + l, {x: xs[i] - halfW, y: y(q3[i]), width: halfW * 2, height: y(q1[i]) - y(q3[i]), fill: '#7a83b6', stroke: '#a9aecb', 'stroke-width': .6});
    vLine(g, 'whisker-upper', xs[i], y(q3[i]), y(high[i]), '#c4c4c4', .8);
    vLine(g, 'whisker-lower', xs[i], y(q1[i]), y(low[i]), '#c4c4c4', .8);
    hLine(g, 'whisker-cap-high', xs[i] - 10, xs[i] + 10, y(high[i]), '#c4c4c4', .9);
    hLine(g, 'whisker-cap-low', xs[i] - 10, xs[i] + 10, y(low[i]), '#c4c4c4', .9);
    pts[i].forEach(p => {
      add(g, 'circle', 'sample-point', {cx: xs[i] + p[0], cy: y(p[1]), r: 1, fill: 'none', stroke: '#b5b5b5', 'stroke-width': .6});
    });
    hLine(g, 'median-' + l, xs[i] - halfW, xs[i] + halfW, y(med[i]), '#111', 1);
    vLine(g, 'x-tick', xs[i], frame.b, frame.b + 5, '#222', 1.3);
    label(g, 'x-tick-label', xs[i], 746, l, 9.2);
    label(g, 'sample-count', xs[i], 757, counts[i], 9.2);
  });
  add(g, 'rect', 'plot-frame', {x: frame.l, y: frame.t, width: frame.r - frame.l, height: frame.b - frame.t, fill: 'none', stroke: '#555', 'stroke-width': 1});
}
drawUkbec('panel-e-ukbec-rs12331802', {l: 50.7, r: 153.3, t: 547.7, b: 726}, [7, 7.5, 636.3, 588.7], [74, 100.7, 127], ukbec1Labels, ukbec1Counts, ukbec1Low, ukbec1Q1, ukbec1Median, ukbec1Q3, ukbec1High, ukbec1Ticks, 11.2);
drawGtex('panel-e-gtex-rs12331802', {l: 199, r: 336, t: 547.7, b: 726}, 645, 32.5, [223.7, 268, 312.3], gtex1Labels, gtex1Counts, gtex1Low, gtex1Q1, gtex1Median, gtex1Q3, gtex1High, gtex1Points, 20);
drawUkbec('panel-e-ukbec-rs10024806', {l: 405.7, r: 505.3, t: 548.7, b: 726.7}, [7, 7.5, 639, 589], [427.3, 454, 480.3], ukbec2Labels, ukbec2Counts, ukbec2Low, ukbec2Q1, ukbec2Median, ukbec2Q3, ukbec2High, ukbec2Ticks, 11.2);
drawGtex('panel-e-gtex-rs10024806', {l: 547.3, r: 687.3, t: 547, b: 725.7}, 644.3, 32.45, [572, 617, 662], gtex2Labels, gtex2Counts, gtex2Low, gtex2Q1, gtex2Median, gtex2Q3, gtex2High, gtex2Points, 20.3);
</script>
</body>
</html>
